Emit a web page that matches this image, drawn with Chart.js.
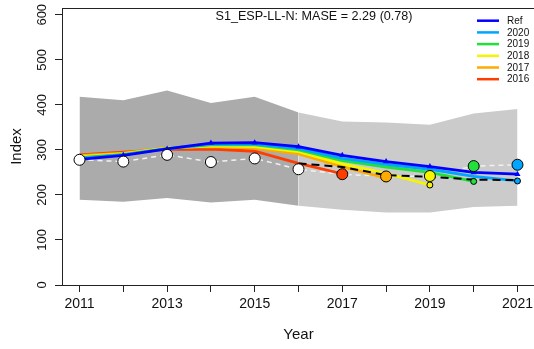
<!DOCTYPE html>
<html>
<head>
<meta charset="utf-8">
<script src="https://cdn.jsdelivr.net/npm/chart.js@4.4.1/dist/chart.umd.min.js"></script>
<style>
html,body{margin:0;padding:0;background:#fff;overflow:hidden;width:534px;height:349px;}
canvas{display:block;}
</style>
</head>
<body>
<canvas id="c" width="536" height="349"></canvas>
<script>
// ---- data ----
const years = [2011,2012,2013,2014,2015,2016,2017,2018,2019,2020,2021];
const yTicks = [0,100,200,300,400,500,600];
const ciUpper = [418,410,432,404,418,383,363,361,356,381,391];
const ciLower = [189,185,193,183,189,176,167,161,161,173,176];
const obsIndex = [278,274,289,273,281,257,246,241,242,264,267];
const refFit = [279,288,302,315,316,307,288,274,263,250,246];
const peel2020 = [281,289,303,313,313,303,281,268,257,241,231];
const peel2019 = [283,290,303,311,311,300,276,262,250,230];
const peel2018 = [285,291,304,309,307,296,269,248,222];
const peel2017 = [287,293,305,307,304,291,263,237];
const peel2016 = [289,295,301,302,297,270,247];
const predYears = [2016,2017,2018,2019,2020,2021];
const predLine = [270,262,244,240,234,233];
const legendLabels = ['Ref','2020','2019','2018','2017','2016'];
const titleText = 'S1_ESP-LL-N: MASE = 2.29 (0.78)';

// ---- styles ----
const FONT = "'Liberation Sans', Arial, sans-serif";
const colRef = '#0000FF';
const peelColors = {'2020':'#00A5FF','2019':'#22E03C','2018':'#F5F500','2017':'#FFAA00','2016':'#FF3D00'};
const peels = [['2016',peel2016],['2017',peel2017],['2018',peel2018],['2019',peel2019],['2020',peel2020]];

const xy = (xs, ys) => ys.map((v,i)=>({x:xs[i], y:v}));

const datasets = [];
// light band (2016-2021)
datasets.push({data: xy(years.slice(5), ciUpper.slice(5)), fill:'+1', backgroundColor:'#cbcbcb', borderWidth:0, borderColor:'rgba(0,0,0,0)', pointRadius:0, order:100});
datasets.push({data: xy(years.slice(5), ciLower.slice(5)), fill:false, borderWidth:0, borderColor:'rgba(0,0,0,0)', pointRadius:0, order:99});
// dark band (2011-2016)
datasets.push({data: xy(years.slice(0,6), ciUpper.slice(0,6)), fill:'+1', backgroundColor:'#ababab', borderWidth:0, borderColor:'rgba(0,0,0,0)', pointRadius:0, order:98});
datasets.push({data: xy(years.slice(0,6), ciLower.slice(0,6)), fill:false, borderWidth:0, borderColor:'rgba(0,0,0,0)', pointRadius:0, order:97});
// observed dashed line
datasets.push({data: xy(years, obsIndex), borderColor:'#f2f2f2', borderWidth:1.5, borderDash:[5,4], pointRadius:0, fill:false, order:90});
// peel lines
peels.forEach(([name, vals], k) => {
  datasets.push({data: xy(years, vals), borderColor: peelColors[name], borderWidth:2.8, pointRadius:0, fill:false, order:80-k});
});
// reference fit
datasets.push({data: xy(years, refFit), borderColor: colRef, borderWidth:2.8, pointStyle:'triangle', pointRadius:3.5, pointBackgroundColor:colRef, pointBorderColor:colRef, pointBorderWidth:0, fill:false, order:74});
// prediction dashed line
datasets.push({data: xy(predYears, predLine), borderColor:'#000', borderWidth:2, borderDash:[8,5], pointRadius:0, fill:false, order:70});
// peel end points (predictions)
datasets.push({data: peels.map(([n,v]) => ({x: years[v.length-1], y: v[v.length-1]})), showLine:false,
  pointRadius:3, pointBackgroundColor: peels.map(([n])=>peelColors[n]), pointBorderColor:'#000', pointBorderWidth:1, order:60});
// observed points (fit years, white)
datasets.push({data: xy(years.slice(0,6), obsIndex.slice(0,6)), showLine:false, pointRadius:5.5, pointBackgroundColor:'#fff', pointBorderColor:'#000', pointBorderWidth:1, order:50});
// observed points in hindcast years, coloured by peel
datasets.push({data: xy(years.slice(6), obsIndex.slice(6)), showLine:false, pointRadius:5.5,
  pointBackgroundColor: years.slice(6).map(y => peelColors[String(y-1)]), pointBorderColor:'#000', pointBorderWidth:1, order:49});

const overlay = {
  id:'overlay',
  afterDraw(chart){
    const {ctx, chartArea:a} = chart;
    ctx.save();
    // box
    ctx.strokeStyle = '#222'; ctx.lineWidth = 1;
    ctx.strokeRect(a.left+0.5, a.top+0.5, a.right-a.left, a.bottom-a.top);
    // title
    ctx.fillStyle = '#111';
    ctx.font = '12.6px ' + FONT;
    ctx.textAlign = 'center'; ctx.textBaseline = 'middle';
    ctx.fillText(titleText, 314, 17);
    // legend
    ctx.font = '10px ' + FONT;
    ctx.textAlign = 'left';
    legendLabels.forEach((lab, i) => {
      const y = 20.7 + i*11.7;
      ctx.strokeStyle = lab === 'Ref' ? colRef : peelColors[lab];
      ctx.lineWidth = 2.5;
      ctx.beginPath(); ctx.moveTo(477, y); ctx.lineTo(499, y); ctx.stroke();
      ctx.fillStyle = '#111';
      ctx.fillText(lab, 507, y + 0.5);
    });
    ctx.restore();
  }
};

new Chart(document.getElementById('c'), {
  type:'line',
  data:{datasets},
  plugins:[overlay],
  options:{
    responsive:false, animation:false,
    layout:{autoPadding:false, padding:{top:8, right:1, left:0, bottom:0}},
    plugins:{legend:{display:false}, tooltip:{enabled:false}},
    elements:{line:{tension:0}},
    scales:{
      x:{type:'linear', min:2010.6, max:2021.4,
        afterBuildTicks: s => { s.ticks = years.map(v => ({value:v})); },
        afterFit: s => { s.height = 64; s.paddingLeft = 0; s.paddingRight = 0; },
        ticks:{autoSkip:false, maxRotation:0, minRotation:0, padding:4, color:'#111',
          font:{family:FONT, size:14},
          callback: v => (v % 2 === 1 ? String(v) : '')},
        grid:{display:true, drawOnChartArea:false, tickLength:7, color:'#222', tickWidth:1},
        border:{display:true, color:'#222'},
        title:{display:true, text:'Year', color:'#111', font:{family:FONT, size:15}, padding:{top:0, bottom:5}}
      },
      y:{type:'linear', min:0, max:615,
        afterBuildTicks: s => { s.ticks = yTicks.map(v => ({value:v})); },
        afterFit: s => { s.width = 62; s.paddingTop = 0; s.paddingBottom = 0; },
        ticks:{minRotation:90, maxRotation:90, crossAlign:'center', padding:2, color:'#111',
          font:{family:FONT, size:13}},
        grid:{display:true, drawOnChartArea:false, tickLength:7, color:'#222', tickWidth:1},
        border:{display:true, color:'#222'},
        title:{display:true, text:'Index', color:'#111', font:{family:FONT, size:15}, padding:{top:8, bottom:0}}
      }
    }
  }
});
</script>
</body>
</html>
